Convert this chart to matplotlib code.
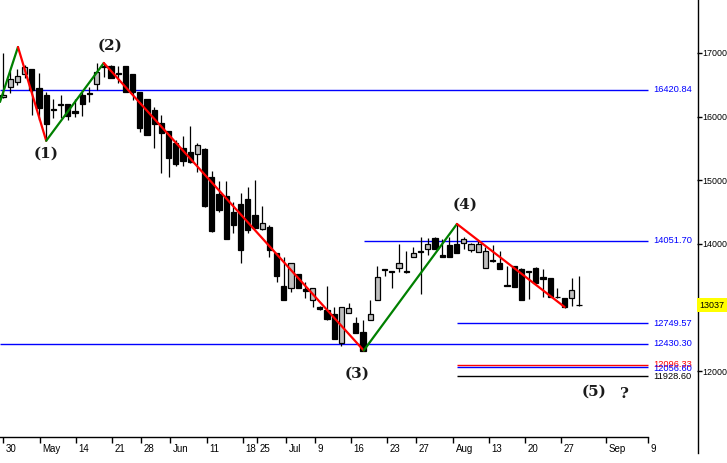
import matplotlib
matplotlib.use('Agg')
import matplotlib.pyplot as plt
import matplotlib.transforms as mtrans
from matplotlib.lines import Line2D
import numpy as np

# ---------------- data ----------------
opens = [16308, 16465, 16544, 16670, 16748, 16450, 16340, 16120, 16198, 16198,
         16088, 16340, 16371, 16513, 16795, 16795, 16685, 16795, 16670, 16387,
         16277, 16104, 15899, 15774, 15585, 15507, 15444, 15412, 15491, 15051,
         14783, 14752, 14501, 14626, 14705, 14453, 14233, 14265, 13856, 13337,
         13306, 13526, 13290, 13117, 13007, 12960, 12897, 12441, 12913, 12755,
         12614, 12803, 13117, 13604, 13573, 13620, 13573, 13793, 13887, 13919,
         14092, 13820, 13982, 13997, 14013, 13903, 13872, 13620, 13740, 13699,
         13345, 13652, 13604, 13565, 13620, 13479, 13463, 13170, 13149, 13149,
         13045]
highs = [17000, 16717, 16748, 16811, 16748, 16685, 16387, 16277, 16340, 16198,
         16277, 16387, 16465, 16843, 16843, 16811, 16795, 16795, 16670, 16387,
         16277, 16151, 16025, 15774, 15632, 15695, 15852, 15585, 15507, 15145,
         14988, 14988, 14658, 14799, 14893, 15003, 14595, 14296, 13856, 13793,
         13699, 13526, 13400, 13306, 13023, 13337, 13007, 13007, 13070, 12850,
         12803, 13117, 13652, 13604, 13573, 13997, 13887, 13950, 14108, 14092,
         14108, 14076, 14108, 14312, 14108, 14013, 14045, 13950, 13982, 13887,
         13652, 13652, 13620, 13565, 13636, 13604, 13463, 13306, 13149, 13463,
         13494]
lows = [16293, 16371, 16497, 16607, 16025, 15947, 15632, 15978, 15978, 15947,
        15994, 16010, 16230, 16418, 16623, 16607, 16528, 16387, 16261, 15758,
        15711, 15507, 15114, 15051, 15224, 15224, 15271, 15129, 14580, 14186,
        14501, 14076, 14170, 13699, 14170, 14249, 14217, 13793, 13400, 13117,
        13243, 13306, 13149, 13007, 12960, 12803, 12504, 12394, 12913, 12598,
        12315, 12803, 13117, 13494, 13306, 13557, 13542, 13793, 13211, 13825,
        13919, 13793, 13793, 13856, 13919, 13872, 13872, 13620, 13714, 13604,
        13330, 13321, 13117, 13133, 13384, 13164, 13164, 13149, 12991, 13023,
        13023]
closes = [16340, 16591, 16638, 16780, 16418, 16135, 15884, 16104, 16182, 16010,
          16057, 16198, 16355, 16701, 16780, 16607, 16670, 16387, 16387, 15821,
          15711, 15884, 15742, 15349, 15255, 15302, 15286, 15554, 14595, 14202,
          14532, 14076, 14296, 13903, 14217, 14249, 14328, 13903, 13494, 13117,
          13699, 13306, 13258, 13306, 12976, 12818, 12504, 13007, 12991, 12598,
          12315, 12897, 13479, 13589, 13557, 13699, 13560, 13856, 13875, 13997,
          13919, 13800, 13793, 13856, 14076, 13997, 13997, 13887, 13725, 13604,
          13330, 13321, 13117, 13550, 13384, 13447, 13164, 13160, 13007, 13274,
          13037]

tick_labels = ['30', 'May', '14', '21', '28', 'Jun', '11', '18', '25', 'Jul', '9',
               '16', '23', '27', 'Aug', '13', '20', '27', 'Sep', '9']
tick_pos = [0.04, 5.1, 10.1, 15.1, 19.2, 23.2, 28.3, 33.3, 35.3, 39.3, 43.3,
            48.3, 53.3, 57.4, 62.5, 67.5, 72.5, 77.5, 83.7, 89.6]

# zigzag pivots
zz_x = [-0.42, 2.08, 6.0, 14.0, 50.1, 63.05, 78.0]
zz_y = [16230, 17094, 15620, 16843, 12323, 14312, 13007]
zz_colors = ['#008000', '#ff0000', '#008000', '#ff0000', '#008000', '#ff0000']

# horizontal levels
levels = [16420.84, 14051.70, 12749.57, 12430.30, 12096.33, 12056.60, 11928.60]
level_colors = ['#0000ff', '#0000ff', '#0000ff', '#0000ff', '#ff0000', '#0000ff', '#000000']
level_start = [-0.42, 50.1, 63.05, -0.42, 63.05, 63.05, 63.05]
level_end = 89.6

wave_labels = ['(1)', '(2)', '(3)', '(4)', '(5)', '?']
wave_x = [6.0, 14.9, 49.2, 64.2, 82.1, 86.25]
wave_y = [15412, 17110, 11954, 14610, 11671, 11640]

last_price = 13037
yticks = [12000, 14000, 15000, 16000, 17000]

# ---------------- figure ----------------
W, H = 727, 463
fig = plt.figure(figsize=(W / 100, H / 100), dpi=100)
fig.patch.set_facecolor('white')
ax = fig.add_axes([0, (H - 437) / H, 697 / W, 437 / H])
ax.set_xlim(-0.417, 96.39)
ax.set_ylim(10963, 17833)

for s in ['top', 'left', 'right', 'bottom']:
    ax.spines[s].set_visible(False)

n = len(opens)
xs = np.arange(n)
o = np.array(opens, float)
c = np.array(closes, float)
hi = np.array(highs, float)
lo = np.array(lows, float)

ax.vlines(xs, lo, hi, color='black', linewidth=0.9, zorder=2)
bw = 0.74
for i in range(n):
    bottom = min(o[i], c[i])
    height = max(abs(c[i] - o[i]), 1.0)
    up = c[i] > o[i]
    fc = '#c0c0c0' if up else '#000000'
    ax.bar(xs[i], height, width=bw, bottom=bottom, color=fc, edgecolor='black',
           linewidth=0.9, zorder=3)

# levels
for v, col, x0 in zip(levels, level_colors, level_start):
    ax.plot([x0, level_end], [v, v], color=col, linewidth=1.0, zorder=1.5,
            solid_capstyle='butt')
lab_offsets = [0, 0, 0, 0, 0.5, -0.5, -1.0]
for v, col, off in zip(levels, level_colors, lab_offsets):
    ax.annotate(f'{v:.2f}', xy=(90.3, v), xytext=(0, off), textcoords='offset points',
                color=col, fontsize=6.7, va='center', ha='left',
                family='Liberation Sans', annotation_clip=False, zorder=6)

# zigzag
for k in range(len(zz_x) - 1):
    ax.plot(zz_x[k:k + 2], zz_y[k:k + 2], color=zz_colors[k], linewidth=1.6,
            zorder=4, solid_capstyle='round')

# wave labels
for t, x, y in zip(wave_labels, wave_x, wave_y):
    ax.text(x, y, t, fontsize=11, fontweight='bold', family='DejaVu Serif',
            color='#1a1a1a', ha='center', va='center', zorder=6)

# x axis
ax.plot([-0.42, level_end], [10963, 10963], color='black', linewidth=1.0,
        clip_on=False, zorder=5)
ax.set_xticks(tick_pos)
ax.set_xticklabels(tick_labels, fontsize=7, family='Liberation Sans', ha='left')
ax.tick_params(axis='x', direction='out', length=4, width=1, pad=1.0, colors='black')
offset = mtrans.ScaledTranslation(2 / 72, 0, fig.dpi_scale_trans)
for lbl in ax.get_xticklabels():
    lbl.set_transform(lbl.get_transform() + offset)

# y axis on the right
ax.yaxis.tick_right()
ax.set_yticks(yticks)
ax.set_yticklabels([str(v) for v in yticks], fontsize=6.4, family='Liberation Sans')
ax.tick_params(axis='y', direction='out', length=3.5, width=1, pad=0.5, colors='black')
fig.add_artist(Line2D([697.5 / W, 697.5 / W], [1 - 453 / H, 1], color='black',
                      linewidth=1.0))

# last price tag
fig.text(699.5 / W, 1 - 305 / H, str(last_price), fontsize=6.4, family='Liberation Sans',
         va='center', ha='left', color='black',
         bbox=dict(facecolor='#ffff00', edgecolor='none', pad=1.8))

fig.savefig('out.png', dpi=100, facecolor='white')
